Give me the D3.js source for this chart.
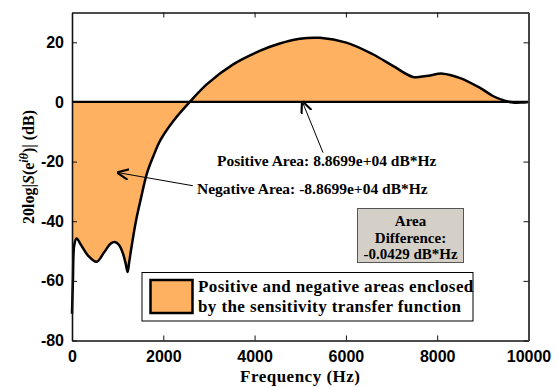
<!DOCTYPE html>
<html>
<head>
<meta charset="utf-8">
<script src="https://cdn.jsdelivr.net/npm/d3@7"></script>
<style>
  body { margin: 0; background: #fff; }
  .tick text { font-family: "Liberation Sans", Arial, sans-serif; font-weight: bold; font-size: 16px; fill: #000; }
  .serif { font-family: "Liberation Serif", "Times New Roman", serif; font-weight: bold; }
</style>
</head>
<body>
<div id="grafica"></div>
<script>
// datos (Hz, dB)
const frecuencias = [0, 20, 50, 100, 200, 350, 540, 700, 850, 940, 1030, 1120, 1180, 1218, 1250, 1300, 1400, 1500, 1640, 1800, 1930, 2220, 2580, 2950, 3530, 4110, 4550, 4990, 5430, 6010, 6590, 7030, 7470, 7760, 8120, 8490, 8930, 9220, 9440, 9660, 9850, 10000]
const magnitudDB = [-71, -60, -48, -45.8, -48, -51.5, -53.6, -50.5, -47.5, -47, -48, -51, -54.5, -57, -54, -49, -40, -33, -24, -17.5, -13, -6.4, 0, 5.9, 12.6, 17.1, 19.6, 21.2, 21.5, 19.9, 16, 12.1, 8.4, 8.7, 9.5, 8.1, 4.8, 2, 0.6, -0.2, -0.2, 0]
const xTicks = [0, 2000, 4000, 6000, 8000, 10000]
const yTicks = [-80, -60, -40, -20, 0, 20]

const textoPositivo = "Positive Area: 8.8699e+04 dB*Hz"
const textoNegativo = "Negative Area: -8.8699e+04 dB*Hz"
const textoDiferencia = ["Area", "Difference:", "-0.0429 dB*Hz"]
const textoLeyenda = ["Positive and negative areas enclosed", "by the sensitivity transfer function"]

const data = frecuencias.map((f, i) => ({ f: f, db: magnitudDB[i] }))

const anchoTotal = 559
const altoTotal = 388
const margins = { top: 12.5, right: 30.5, bottom: 47.5, left: 72 }
const ancho = anchoTotal - margins.left - margins.right
const alto = altoTotal - margins.top - margins.bottom

const svg = d3.select("#grafica").append("svg")
    .attr("width", anchoTotal)
    .attr("height", altoTotal)

const g = svg.append("g")
    .attr("transform", `translate(${margins.left},${margins.top})`)

// Escaladores
const x = d3.scaleLinear().domain([0, 10000]).range([0, ancho])
const y = d3.scaleLinear().domain([-80, 30]).range([alto, 0])

// Area rellena
const area = d3.area()
    .x(d => x(d.f))
    .y0(y(0))
    .y1(d => y(d.db))
    .curve(d3.curveCatmullRom)

g.append("path")
    .datum(data)
    .attr("d", area)
    .attr("fill", "#FFB162")

// linea cero
g.append("line")
    .attr("x1", 0).attr("x2", ancho)
    .attr("y1", y(0)).attr("y2", y(0))
    .attr("stroke", "#000")
    .attr("stroke-width", 2.2)

// curva
const linea = d3.line()
    .x(d => x(d.f))
    .y(d => y(d.db))
    .curve(d3.curveCatmullRom)

g.append("path")
    .datum(data)
    .attr("d", linea)
    .attr("fill", "none")
    .attr("stroke", "#000")
    .attr("stroke-width", 2.5)
    .attr("stroke-linejoin", "round")

// Ejes
const fmt = d => String(d)
const ejeX = g.append("g")
    .attr("transform", `translate(0,${alto})`)
    .call(d3.axisBottom(x).tickValues(xTicks).tickFormat(fmt).tickSizeInner(-5).tickSizeOuter(0).tickPadding(10))
const ejeY = g.append("g")
    .call(d3.axisLeft(y).tickValues(yTicks).tickFormat(fmt).tickSizeInner(-5).tickSizeOuter(0).tickPadding(8))
const ejeTop = g.append("g")
    .call(d3.axisTop(x).tickValues(xTicks).tickSizeInner(-5).tickSizeOuter(0).tickFormat(""))
const ejeRight = g.append("g")
    .attr("transform", `translate(${ancho},0)`)
    .call(d3.axisRight(y).tickValues(yTicks).tickSizeInner(-5).tickSizeOuter(0).tickFormat(""))

;[ejeX, ejeY, ejeTop, ejeRight].forEach(e => {
    e.select(".domain").attr("stroke", "#111").attr("stroke-width", 1.6)
    e.selectAll(".tick line").attr("stroke", "#111").attr("stroke-width", 1)
})
ejeRight.select(".domain").attr("stroke", "#444").attr("stroke-width", 2)

// Titulos de ejes
g.append("text")
    .attr("class", "serif")
    .attr("x", ancho / 2)
    .attr("y", alto + 41)
    .attr("text-anchor", "middle")
    .attr("font-size", 17)
    .attr("letter-spacing", 0.5)
    .text("Frequency (Hz)")

const yLabel = svg.append("text")
    .attr("class", "serif")
    .attr("transform", "translate(34,167) rotate(-90)")
    .attr("text-anchor", "middle")
    .attr("font-size", 16)
yLabel.append("tspan").text("20log|")
yLabel.append("tspan").attr("font-style", "italic").text("S")
yLabel.append("tspan").text("(e")
yLabel.append("tspan").attr("font-style", "italic").attr("font-size", 12).attr("dy", -6).text("iθ")
yLabel.append("tspan").attr("dy", 6).text(")| (dB)")

// Flechas
svg.append("defs").append("marker")
    .attr("id", "punta")
    .attr("viewBox", "0 0 10 10")
    .attr("refX", 9).attr("refY", 5)
    .attr("markerWidth", 12).attr("markerHeight", 12)
    .attr("markerUnits", "userSpaceOnUse")
    .attr("orient", "auto")
    .append("path")
    .attr("d", "M0,0.5 L10,5 L0,9.5")
    .attr("fill", "none")
    .attr("stroke", "#000")
    .attr("stroke-width", 1.8)

const flechas = [
    { x1: 5499, y1: -17, x2: 5048, y2: 0 },
    { x1: 2648, y1: -28.1, x2: 1007, y2: -23.7 }
]
g.selectAll(".flecha").data(flechas).enter()
    .append("line")
    .attr("class", "flecha")
    .attr("x1", d => x(d.x1)).attr("y1", d => y(d.y1))
    .attr("x2", d => x(d.x2)).attr("y2", d => y(d.y2))
    .attr("stroke", "#000")
    .attr("stroke-width", 1)
    .attr("marker-end", "url(#punta)")

// Etiquetas de area
svg.append("text").attr("class", "serif")
    .attr("x", 217).attr("y", 166)
    .attr("font-size", 15.5)
    .text(textoPositivo)
svg.append("text").attr("class", "serif")
    .attr("x", 197).attr("y", 194)
    .attr("font-size", 15.5)
    .text(textoNegativo)

// Caja diferencia
svg.append("rect")
    .attr("x", 357.5).attr("y", 208.5)
    .attr("width", 106).attr("height", 54)
    .attr("fill", "#D4D0C8")
    .attr("stroke", "#555")
    .attr("stroke-width", 1)
svg.selectAll(".dif").data(textoDiferencia).enter()
    .append("text")
    .attr("class", "serif dif")
    .attr("x", 410.5)
    .attr("y", (d, i) => 226 + i * 16.5)
    .attr("text-anchor", "middle")
    .attr("font-size", 15)
    .text(d => d)

// Leyenda
svg.append("rect")
    .attr("x", 142).attr("y", 272.5)
    .attr("width", 331).attr("height", 48.5)
    .attr("fill", "#fff")
    .attr("stroke", "#000")
    .attr("stroke-width", 1)
svg.append("rect")
    .attr("x", 150.5).attr("y", 280)
    .attr("width", 42).attr("height", 33)
    .attr("fill", "#FFB162")
    .attr("stroke", "#000")
    .attr("stroke-width", 2.5)
svg.selectAll(".ley").data(textoLeyenda).enter()
    .append("text")
    .attr("class", "serif ley")
    .attr("x", 198)
    .attr("y", (d, i) => 292 + i * 20)
    .attr("font-size", 17)
    .attr("letter-spacing", 0.4)
    .text(d => d)
</script>
</body>
</html>
